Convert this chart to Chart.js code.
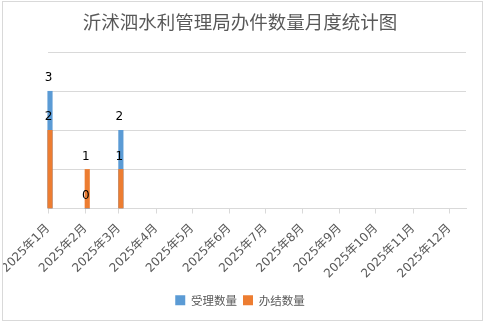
<!DOCTYPE html>
<html>
<head>
<meta charset="utf-8">
<script src="https://cdn.jsdelivr.net/npm/chart.js@4.4.1/dist/chart.umd.min.js"></script>
<style>
  body { margin: 0; background: #fff; }
  #box {
    position: absolute; left: 2px; top: 1px;
    width: 479px; height: 318px;
    border: 1px solid #d9d9d9; background: #fff;
  }
</style>
</head>
<body>
<div id="box"><canvas id="myCanvas" width="479" height="318"></canvas></div>
<script>
// 数据
var monthLabels = ['2025年1月', '2025年2月', '2025年3月', '2025年4月', '2025年5月', '2025年6月',
                   '2025年7月', '2025年8月', '2025年9月', '2025年10月', '2025年11月', '2025年12月'];
var dataMonths = [1, 2, 3];          // 有数据的月份
var shouliShuliang = [3, 0, 2];      // 受理数量
var banjieShuliang = [2, 1, 1];      // 办结数量
var axisEndDay = 348;                // 横轴结束（距1月1日天数）

var fontCjk = '"Noto Sans CJK SC", "Noto Sans", sans-serif';
var fontTicks = '"DejaVu Sans", "Noto Sans CJK SC", sans-serif';

// 月份 -> 距 2025-01-01 的天数
var diaDoAno = function(mes){
  return (Date.UTC(2025, mes - 1, 1) - Date.UTC(2025, 0, 1)) / 864e5;
};

var tickDays = monthLabels.map(function(l, i){ return diaDoAno(i + 1); });

var montaPontos = function(valores){
  return dataMonths.map(function(m, i){ return { x: diaDoAno(m), y: valores[i] }; });
};

// 柱子略向右（与 Excel 日期轴一致），并绘制数据标签
var rotulosPlugin = {
  id: 'rotulos',
  afterDatasetsUpdate: function(chart){
    chart.data.datasets.forEach(function(ds, di){
      chart.getDatasetMeta(di).data.forEach(function(el){ el.x += 2; });
    });
  },
  afterDatasetsDraw: function(chart){
    var ctx = chart.ctx;
    ctx.save();
    ctx.font = '12px "DejaVu Sans", sans-serif';
    ctx.fillStyle = '#000';
    ctx.textAlign = 'center';
    ctx.textBaseline = 'middle';
    chart.data.datasets.forEach(function(ds, di){
      var meta = chart.getDatasetMeta(di);
      meta.data.forEach(function(el, i){
        ctx.fillText(String(ds.data[i].y), el.x - 1.5, el.y - 13);
      });
    });
    ctx.restore();
  }
};

var context = document.getElementById('myCanvas');
var grafico = new Chart(context, {
  type: 'bar',
  data: {
    datasets: [
      { label: '受理数量', data: montaPontos(shouliShuliang), backgroundColor: '#5B9BD5', order: 1 },
      { label: '办结数量', data: montaPontos(banjieShuliang), backgroundColor: '#ED7D31', order: 0 }
    ]
  },
  plugins: [rotulosPlugin],
  options: {
    responsive: false,
    animation: false,
    layout: { padding: { left: 11, right: 16, top: 0, bottom: 4 } },
    datasets: { bar: { grouped: false, barThickness: 4.5, clip: false } },
    plugins: {
      title: {
        display: true,
        text: '沂沭泗水利管理局办件数量月度统计图',
        color: '#595959',
        font: { family: fontCjk, size: 18.5, weight: 'normal' },
        padding: { top: 9, bottom: 19 }
      },
      legend: {
        position: 'bottom',
        labels: {
          boxWidth: 10, boxHeight: 10, padding: 6,
          color: '#595959',
          font: { family: fontCjk, size: 11.5 },
          sort: function(a, b){ return a.datasetIndex - b.datasetIndex; }
        }
      },
      tooltip: { enabled: false }
    },
    scales: {
      x: {
        type: 'linear',
        offset: false,
        min: 0,
        max: axisEndDay,
        afterBuildTicks: function(axis){
          axis.ticks = tickDays.map(function(d){ return { value: d }; });
        },
        afterFit: function(axis){
          axis.paddingLeft = 0;
          axis.paddingRight = 0;
          axis.height = 80;
        },
        ticks: {
          autoSkip: false,
          maxRotation: 45, minRotation: 45,
          padding: 8,
          color: '#595959',
          font: { family: fontTicks, size: 12 },
          callback: function(v){ return monthLabels[tickDays.indexOf(v)]; }
        },
        grid: { offset: false, drawOnChartArea: false, drawTicks: true, tickLength: 5, color: '#d9d9d9' },
        border: { display: true, color: '#d9d9d9' }
      },
      y: {
        min: 0, max: 4,
        afterFit: function(axis){ axis.width = 34; },
        ticks: { display: false, stepSize: 1 },
        grid: { color: '#d9d9d9', drawTicks: false },
        border: { display: false }
      }
    }
  }
});
</script>
</body>
</html>
